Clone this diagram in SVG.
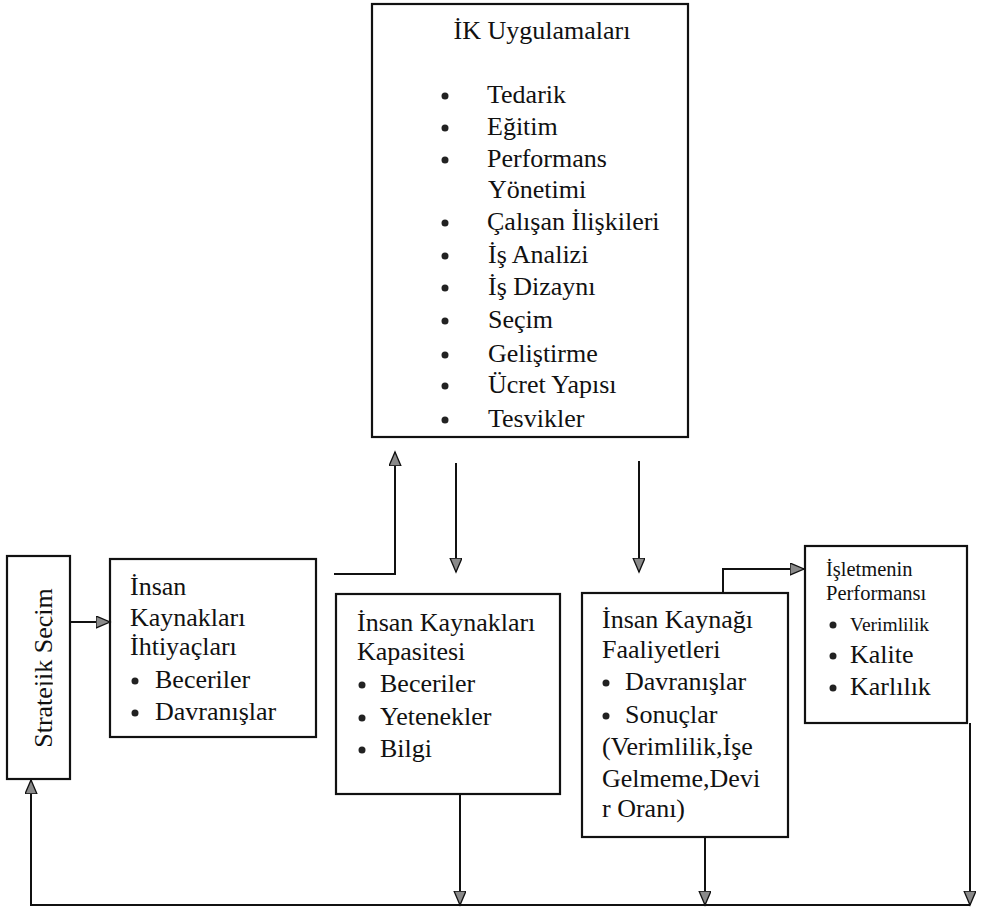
<svg xmlns="http://www.w3.org/2000/svg" width="985" height="914" viewBox="0 0 985 914">
  <style>
    .box { fill: #fff; stroke: #111; stroke-width: 2.2; }
    .t { font-family: 'Liberation Serif', 'DejaVu Serif', 'Times New Roman', serif; font-size: 26px; fill: #111; }
    .s { font-size: 20.5px; }
    .xs { font-size: 19.5px; }
    .dot { fill: #222; }
    .wire { fill: none; stroke: #111; stroke-width: 2; }
    .arr { marker-end: url(#head); }
  </style>
  <defs>
    <marker id="head" markerUnits="userSpaceOnUse" markerWidth="16" markerHeight="14" refX="14" refY="6" orient="auto">
      <path d="M0,0 L14,6 L0,12 z" fill="#8a8a8a" stroke="#111" stroke-width="1.3"/>
    </marker>
    <!-- the vertical label is cut just below its baseline -->
    <clipPath id="clipStrat">
      <rect x="7" y="556" width="45.8" height="223"/>
    </clipPath>
  </defs>

  <rect width="985" height="914" fill="#fff"/>

  <!-- HR practices -->
  <g id="ik-uygulamalari">
    <rect class="box" x="372" y="4" width="316" height="433"/>
    <text class="t" x="542" y="39" text-anchor="middle">İK Uygulamaları</text>
    <circle class="dot" cx="445" cy="96" r="3.5"/>
    <text class="t" x="487" y="103">Tedarik</text>
    <circle class="dot" cx="445" cy="128" r="3.5"/>
    <text class="t" x="487" y="135">Eğitim</text>
    <circle class="dot" cx="445" cy="160" r="3.5"/>
    <text class="t" x="487" y="167">Performans</text>
    <text class="t" x="488" y="198">Yönetimi</text>
    <circle class="dot" cx="445" cy="223" r="3.5"/>
    <text class="t" x="487" y="230">Çalışan İlişkileri</text>
    <circle class="dot" cx="445" cy="256" r="3.5"/>
    <text class="t" x="488" y="263">İş Analizi</text>
    <circle class="dot" cx="445" cy="288" r="3.5"/>
    <text class="t" x="488" y="295">İş Dizaynı</text>
    <circle class="dot" cx="445" cy="321" r="3.5"/>
    <text class="t" x="488" y="328">Seçim</text>
    <circle class="dot" cx="445" cy="355" r="3.5"/>
    <text class="t" x="488" y="362">Geliştirme</text>
    <circle class="dot" cx="445" cy="386" r="3.5"/>
    <text class="t" x="488" y="393">Ücret Yapısı</text>
    <circle class="dot" cx="445" cy="420" r="3.5"/>
    <text class="t" x="488" y="427">Tesvikler</text>
  </g>

  <!-- Strategic choice (vertical label) -->
  <g id="stratejik-secim">
    <rect class="box" x="7" y="556" width="63" height="223"/>
    <g clip-path="url(#clipStrat)">
      <text class="t" transform="translate(52,668) rotate(-90)" text-anchor="middle">Stratejik Seçim</text>
    </g>
  </g>

  <!-- HR needs -->
  <g id="ik-ihtiyaclari">
    <rect class="box" x="110" y="559" width="206" height="178"/>
    <text class="t" x="130" y="595">İnsan</text>
    <text class="t" x="130" y="626">Kaynakları</text>
    <text class="t" x="130" y="655">İhtiyaçları</text>
    <circle class="dot" cx="135" cy="681" r="3.5"/>
    <text class="t" x="155" y="688">Beceriler</text>
    <circle class="dot" cx="135" cy="713" r="3.5"/>
    <text class="t" x="155" y="720">Davranışlar</text>
  </g>

  <!-- HR capacity -->
  <g id="ik-kapasitesi">
    <rect class="box" x="336" y="594" width="224" height="200"/>
    <text class="t" x="357" y="631">İnsan Kaynakları</text>
    <text class="t" x="357" y="660">Kapasitesi</text>
    <circle class="dot" cx="362" cy="685" r="3.5"/>
    <text class="t" x="380" y="692">Beceriler</text>
    <circle class="dot" cx="362" cy="718" r="3.5"/>
    <text class="t" x="380" y="725">Yetenekler</text>
    <circle class="dot" cx="362" cy="750" r="3.5"/>
    <text class="t" x="380" y="757">Bilgi</text>
  </g>

  <!-- HR activities -->
  <g id="ik-faaliyetleri">
    <rect class="box" x="582" y="593" width="206" height="244"/>
    <text class="t" x="602" y="628">İnsan Kaynağı</text>
    <text class="t" x="602" y="658">Faaliyetleri</text>
    <circle class="dot" cx="606" cy="683" r="3.5"/>
    <text class="t" x="625" y="690">Davranışlar</text>
    <circle class="dot" cx="606" cy="716" r="3.5"/>
    <text class="t" x="625" y="723">Sonuçlar</text>
    <text class="t" x="602" y="755">(Verimlilik,İşe</text>
    <text class="t" x="602" y="787">Gelmeme,Devi</text>
    <text class="t" x="602" y="817">r Oranı)</text>
  </g>

  <!-- Firm performance -->
  <g id="isletme-performansi">
    <rect class="box" x="805" y="546" width="162" height="177"/>
    <text class="t s" x="826" y="576">İşletmenin</text>
    <text class="t s" x="826" y="600">Performansı</text>
    <circle class="dot" cx="833" cy="625" r="3.5"/>
    <text class="t xs" x="850" y="631">Verimlilik</text>
    <circle class="dot" cx="833" cy="656" r="3.5"/>
    <text class="t" x="850" y="663">Kalite</text>
    <circle class="dot" cx="833" cy="688" r="3.5"/>
    <text class="t" x="850" y="695">Karlılık</text>
  </g>

  <!-- connectors -->
  <g id="connectors">
    <path class="wire arr" d="M70,622 H110"/>
    <path class="wire arr" d="M334,574 H395 V452"/>
    <path class="wire arr" d="M456,463 V572"/>
    <path class="wire arr" d="M639,461 V572"/>
    <path class="wire arr" d="M723,593 V569 H804"/>
    <path class="wire arr" d="M460,794 V905"/>
    <path class="wire arr" d="M705,837 V905"/>
    <path class="wire arr" d="M970,723 V905"/>
    <path class="wire arr" d="M970,905 H31 V780"/>
  </g>
</svg>
